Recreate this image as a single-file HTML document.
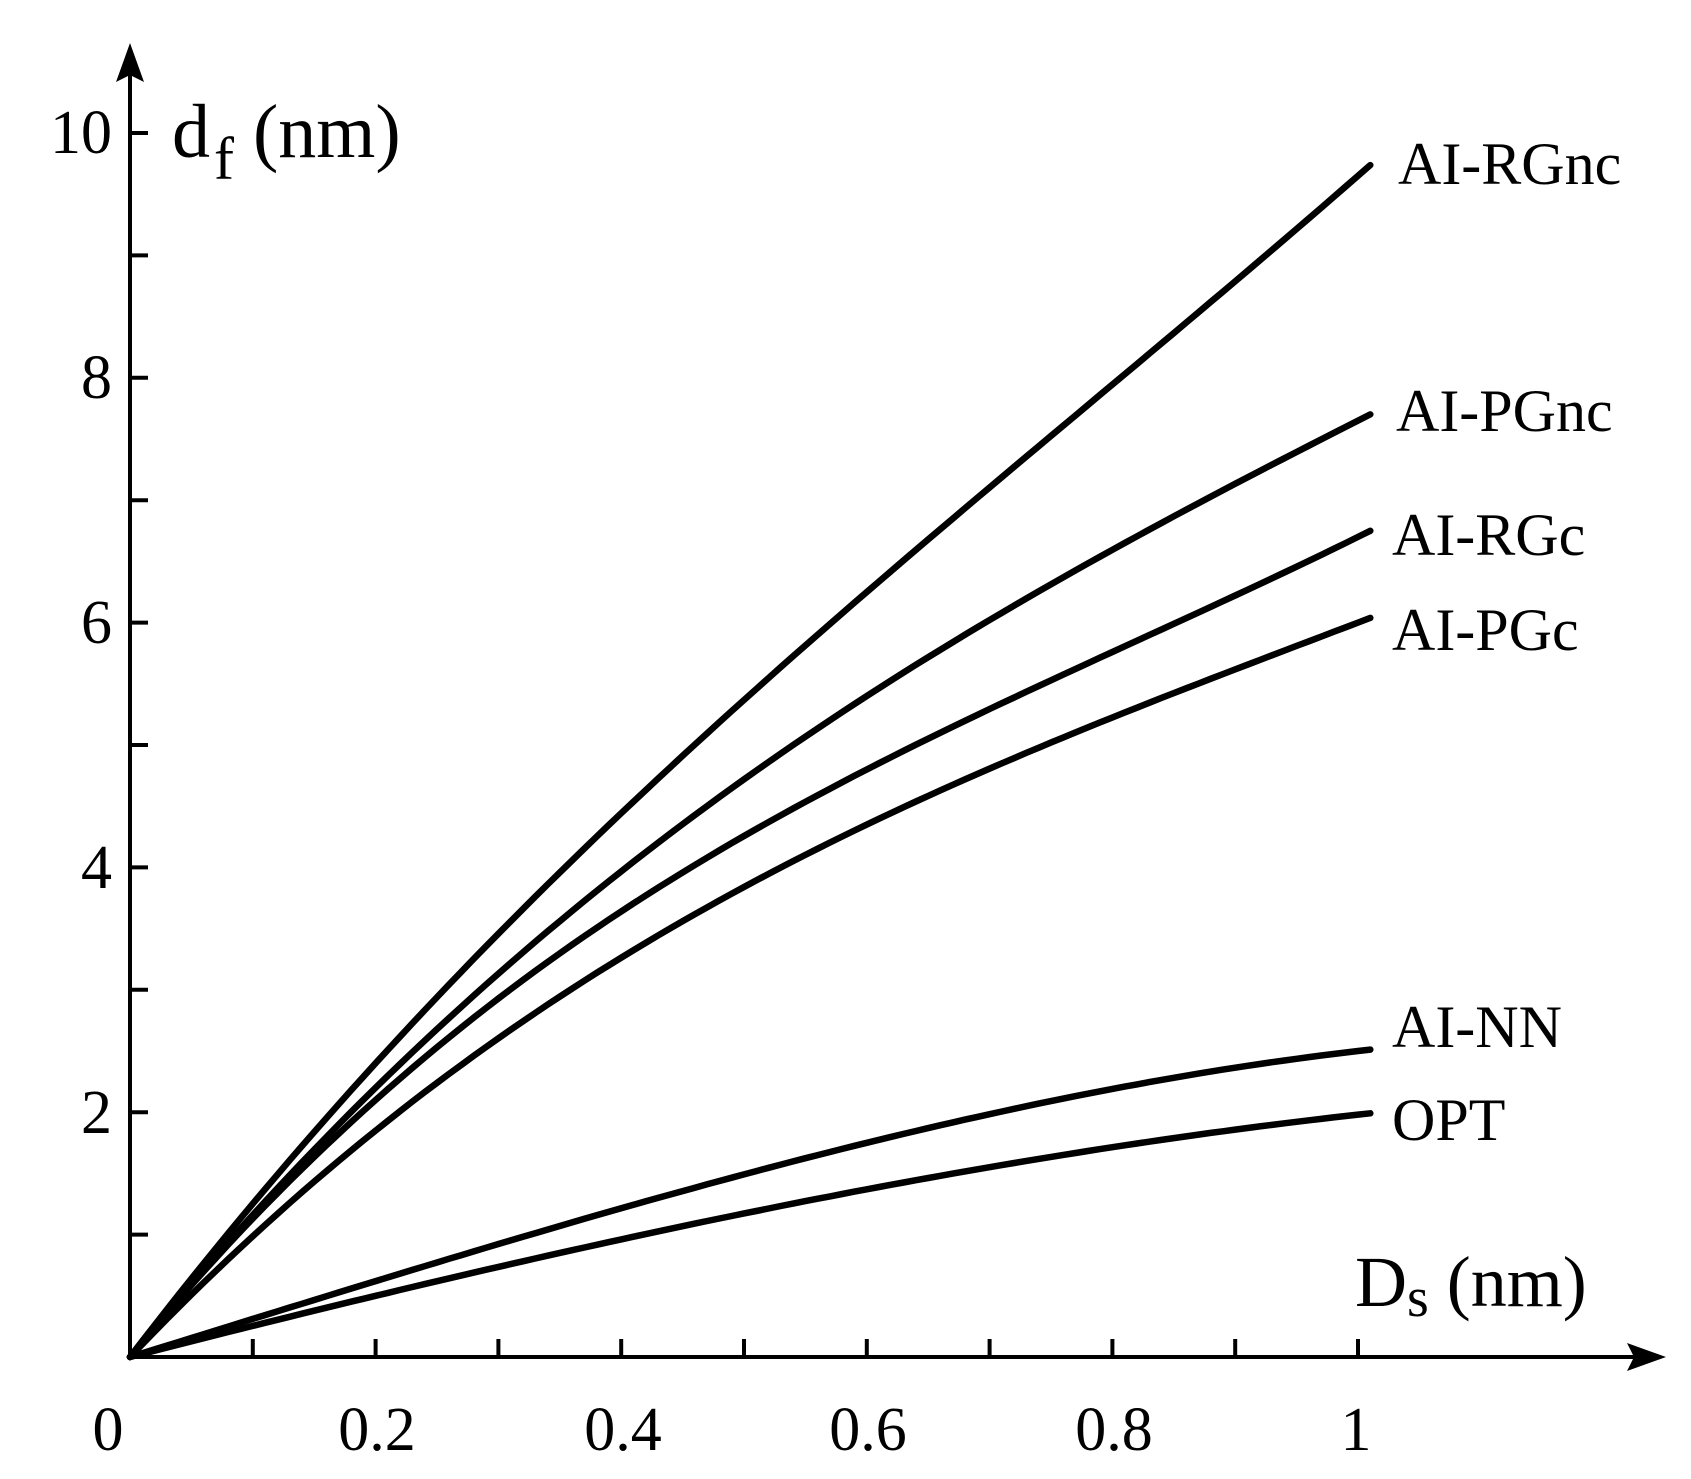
<!DOCTYPE html>
<html><head><meta charset="utf-8"><style>
html,body{margin:0;padding:0;background:#fff;}
svg{display:block;}
text{font-family:"Liberation Serif",serif;fill:#000;}
</style></head><body>
<svg id="s" width="1691" height="1479" viewBox="0 0 1691 1479" xmlns="http://www.w3.org/2000/svg">
<g stroke="#000" stroke-width="4" fill="none">
<line x1="130" y1="1357" x2="130" y2="70"/>
<line x1="128" y1="1357" x2="1640" y2="1357"/>
</g>
<polygon points="130,43 116,82 130,75 144,82" fill="#000"/>
<polygon points="1666,1357 1627,1343 1634,1357 1627,1371" fill="#000"/>
<g id="ticks" stroke="#000" stroke-width="4"></g>
<g id="curves" stroke="#000" stroke-width="6.5" fill="none" stroke-linecap="round" stroke-linejoin="round"></g>
<g font-size="62" text-anchor="middle">
<text x="108" y="1450">0</text>
<text x="377" y="1450">0.2</text>
<text x="623" y="1450">0.4</text>
<text x="868" y="1450">0.6</text>
<text x="1114" y="1450">0.8</text>
<text x="1356" y="1450">1</text>
</g>
<g font-size="62" text-anchor="end">
<text x="112" y="153">10</text>
<text x="112" y="398">8</text>
<text x="112" y="643">6</text>
<text x="112" y="888">4</text>
<text x="112" y="1133">2</text>
</g>
<text x="172" y="157" font-size="76">d<tspan font-size="60" dy="22" dx="4">f</tspan><tspan dy="-22"> (nm)</tspan></text>
<text x="1355" y="1306" font-size="72">D<tspan font-size="56" dy="10">s</tspan><tspan dy="-10"> (nm)</tspan></text>
<g font-size="60">
<text x="1398" y="184">AI-RGnc</text>
<text x="1396" y="431">AI-PGnc</text>
<text x="1392" y="555">AI-RGc</text>
<text x="1392" y="650">AI-PGc</text>
<text x="1392" y="1047">AI-NN</text>
<text x="1392" y="1140">OPT</text>
</g>
</svg>
<script>
var X0=130,Y0=1357,SX=1228,SY=122.4,NS="http://www.w3.org/2000/svg";
var t=document.getElementById('ticks');
function ln(a,b,c,d){var l=document.createElementNS(NS,'line');l.setAttribute('x1',a);l.setAttribute('y1',b);l.setAttribute('x2',c);l.setAttribute('y2',d);t.appendChild(l);}
for(var i=1;i<=10;i++){var y=Y0-i*SY;ln(X0,y,X0+18,y);}
for(var i=1;i<=10;i++){var x=X0+i*SX/10;ln(x,Y0,x,Y0-18);}
var data=[[2.4,6.25,9.65],[2.2,5.4,7.65],[2.1,4.8,6.7],[1.85,4.35,6.0],[0.62,1.75,2.5],[0.5,1.37,1.98]];
var xp=[0.2,0.6,1.0];
function solve(A,b){var n=3;for(var i=0;i<n;i++){for(var j=i+1;j<n;j++){var f=A[j][i]/A[i][i];for(var k=i;k<n;k++)A[j][k]-=f*A[i][k];b[j]-=f*b[i];}}
var x=[0,0,0];for(var i=n-1;i>=0;i--){var s=b[i];for(var k=i+1;k<n;k++)s-=A[i][k]*x[k];x[i]=s/A[i][i];}return x;}
var g=document.getElementById('curves');
data.forEach(function(ys){
 var A=xp.map(function(x){return [x,x*x,x*x*x];});
 var c=solve(A,ys.slice());
 var pts=[];
 for(var i=0;i<=101;i++){var x=i/100;var v=c[0]*x+c[1]*x*x+c[2]*x*x*x;
  pts.push((X0+x*SX).toFixed(1)+','+(Y0-v*SY).toFixed(1));}
 var p=document.createElementNS(NS,'polyline');p.setAttribute('points',pts.join(' '));g.appendChild(p);
});
</script>
</body></html>
